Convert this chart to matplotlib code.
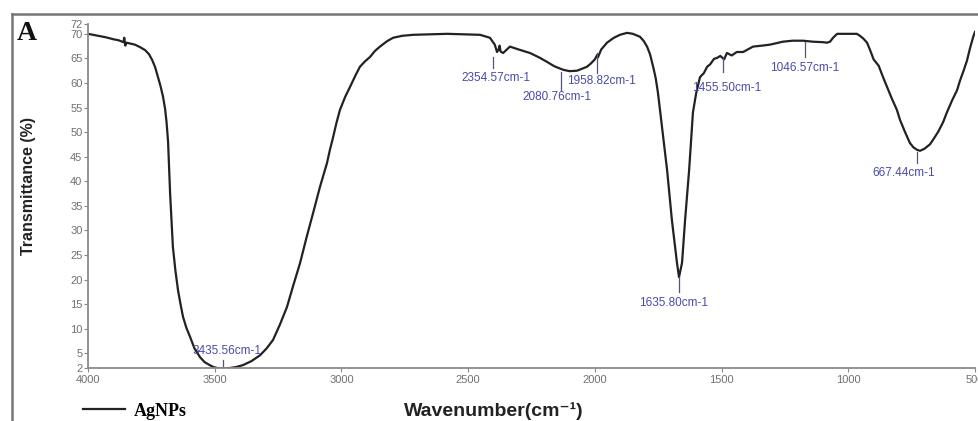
import matplotlib
matplotlib.use("Agg")
import matplotlib.pyplot as plt
from matplotlib.lines import Line2D

# FTIR spectrum of AgNPs
wavenumber = [
    4000, 3960, 3930, 3900, 3880, 3860, 3857, 3853, 3848, 3815, 3795, 3775,
    3760, 3747, 3735, 3724, 3714, 3704, 3696, 3690, 3684, 3680, 3676, 3670,
    3665, 3655, 3645, 3635, 3625, 3612, 3597, 3580, 3558, 3540, 3520, 3505,
    3491, 3465, 3440, 3415, 3388, 3355, 3321, 3295, 3270, 3243, 3215, 3190,
    3163, 3138, 3112, 3085, 3057, 3045, 3035, 3020, 3006, 2985, 2966, 2945,
    2927, 2907, 2887, 2868, 2848, 2820, 2796, 2760, 2717, 2583, 2453, 2414,
    2395, 2386, 2380, 2376, 2372, 2362, 2335, 2300, 2256, 2220, 2189, 2160,
    2126, 2100, 2070, 2050, 2031, 2015, 2000, 1991, 1988, 1975, 1952, 1925,
    1901, 1873, 1850, 1822, 1808, 1794, 1782, 1770, 1760, 1751, 1735, 1715,
    1696, 1676, 1668, 1656, 1644, 1628, 1613, 1600, 1585, 1570, 1557, 1545,
    1530, 1518, 1505, 1490, 1479, 1460, 1440, 1415, 1376, 1340, 1309, 1258,
    1220, 1179, 1140, 1100, 1084, 1072, 1060, 1044, 966, 954, 940, 926,
    914, 900, 880, 863, 847, 828, 808, 796, 776, 757, 743, 729,
    717, 700, 690, 678, 666, 646, 626, 611, 590, 571, 559, 545,
    532, 520, 507, 500,
]
transmittance = [
    70.0, 69.6, 69.3, 68.9, 68.7, 68.3, 69.2, 67.6, 68.2, 67.8, 67.3, 66.7,
    65.9, 64.7, 63.2, 61.2, 59.4, 57.2, 54.8, 52.0, 48.0, 43.0, 37.5, 31.5,
    26.6, 21.8, 17.9, 15.0, 12.4, 10.2, 8.3, 6.0, 4.2, 3.2, 2.6, 2.2,
    2.0, 1.9, 2.0, 2.2, 2.6, 3.4, 4.6, 6.0, 7.7, 10.8, 14.4, 18.8,
    23.4, 28.5, 33.5, 38.8, 43.7, 46.5, 48.5, 51.8, 54.5, 57.2, 59.2, 61.5,
    63.3, 64.4, 65.3, 66.5, 67.4, 68.5, 69.2, 69.6, 69.8, 70.0, 69.8, 69.2,
    67.8, 66.3, 66.8, 67.6, 66.4, 66.1, 67.4, 66.8, 66.1, 65.2, 64.3, 63.4,
    62.7, 62.4, 62.5, 62.9, 63.3, 64.0, 64.8, 65.7, 65.2, 66.8, 68.2, 69.2,
    69.8, 70.2, 70.0, 69.4, 68.6, 67.4, 65.8, 63.3, 61.0, 58.0, 51.0, 42.3,
    32.1, 23.4, 20.5, 23.4, 32.1, 42.3, 54.0, 58.0, 61.2, 62.0, 63.3, 63.8,
    64.9, 65.1, 65.5, 64.8, 66.1, 65.6, 66.3, 66.3, 67.4, 67.6, 67.8, 68.4,
    68.6, 68.6, 68.4, 68.3, 68.2, 68.4, 69.2, 70.0, 70.0, 69.6, 69.0, 68.2,
    66.7, 64.8, 63.5, 61.2, 59.2, 56.8, 54.5, 52.5, 50.0, 47.8, 46.9, 46.4,
    46.2, 46.6, 47.0, 47.5, 48.4, 50.0, 52.0, 54.0, 56.5, 58.5, 60.5, 62.5,
    64.5, 67.0, 69.4, 70.4,
]

# peak annotations: tick x, tick y range, label centre, label text
peak_x = [3467, 2402, 2133, 1991, 1668, 1494, 1171, 729]
peak_tick_top = [3.6, 65.3, 62.3, 66.1, 20.5, 65.3, 68.4, 46.0]
peak_tick_bottom = [2.0, 63.1, 58.6, 62.1, 17.5, 62.3, 65.3, 43.7]
label_x = [3452, 2390, 2149, 1976, 1688, 1479, 1171, 780]
label_y = [5.4, 61.0, 57.2, 60.4, 15.2, 59.0, 63.1, 41.7]
peak_labels = [
    "3435.56cm-1", "2354.57cm-1", "2080.76cm-1", "1958.82cm-1",
    "1635.80cm-1", "1455.50cm-1", "1046.57cm-1", "667.44cm-1",
]

x_ticks = [4000, 3500, 3000, 2500, 2000, 1500, 1000, 500]
y_ticks = [2, 5, 10, 15, 20, 25, 30, 35, 40, 45, 50, 55, 60, 65, 70, 72]

W, H = 979, 421
fig = plt.figure(figsize=(W / 100, H / 100), dpi=100)
ax = fig.add_axes([88 / W, 1 - 368 / H, 887 / W, 344 / H])

ax.plot(wavenumber, transmittance, color="#222222", lw=1.6, label="AgNPs")

for x0, t0, t1, lx, ly, txt in zip(peak_x, peak_tick_top, peak_tick_bottom,
                                    label_x, label_y, peak_labels):
    ax.plot([x0, x0], [t0, t1], color="#555577", lw=0.9)
    ax.text(lx, ly, txt, ha="center", va="center", fontsize=8.5,
            family="Liberation Sans", color="#4a4aa8")

ax.set_xlim(4000, 500)
ax.set_ylim(2, 72)
ax.set_xticks(x_ticks)
ax.set_yticks(y_ticks)
ax.tick_params(axis="both", colors="#888888", labelcolor="#707070",
               length=3, width=0.8, labelsize=8)
for lbl in ax.get_xticklabels() + ax.get_yticklabels():
    lbl.set_family("Liberation Sans")
ax.tick_params(axis="y", pad=1)
ax.tick_params(axis="x", pad=2)

for side in ["top", "right"]:
    ax.spines[side].set_visible(False)
for side in ["left", "bottom"]:
    ax.spines[side].set_color("#8a8a8a")
    ax.spines[side].set_linewidth(1.3)

ax.set_ylabel("Transmittance (%)", fontsize=11.5, fontweight="bold",
              family="Liberation Sans", color="#222222")
ax.yaxis.set_label_coords(-52 / 887, 0.53)
fig.text(494 / W, 1 - 411 / H, "Wavenumber(cm\u207b\u00b9)", ha="center", va="center",
         fontsize=14, fontweight="bold", family=["Liberation Sans", "DejaVu Sans"],
         color="#222222")

fig.text(27 / W, 1 - 34 / H, "A", ha="center", va="center", fontsize=20,
         fontweight="bold", family="Liberation Serif", color="#111111")

ax.legend(loc="center left", bbox_to_anchor=(83 / W, 1 - 411 / H),
          bbox_transform=fig.transFigure, frameon=False, borderpad=0,
          borderaxespad=0, handlelength=2.3, handletextpad=0.5,
          prop={"family": "Liberation Serif", "weight": "bold", "size": 13})

# outer frame of the panel (cut off on the right and bottom)
fig.add_artist(Line2D([12.5 / W, 12.5 / W], [0, 1 - 13.5 / H],
                      transform=fig.transFigure, color="#777777", lw=1.8))
fig.add_artist(Line2D([12.5 / W, 1], [1 - 13.5 / H, 1 - 13.5 / H],
                      transform=fig.transFigure, color="#777777", lw=1.8))

fig.savefig("out.png", dpi=100)
